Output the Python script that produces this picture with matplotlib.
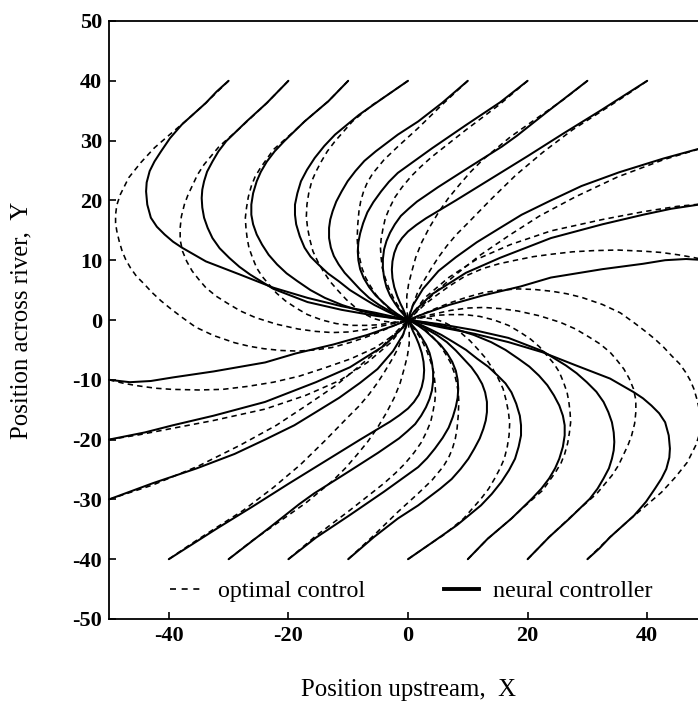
import matplotlib
matplotlib.use("Agg")
import matplotlib.pyplot as plt
from matplotlib.lines import Line2D

plt.rcParams['font.family'] = ['Liberation Serif', 'DejaVu Serif']
plt.rcParams['axes.unicode_minus'] = False

# ---- trajectories: (x, y) pairs, start -> origin ----
# neural controller (solid), starts on top edge y=40
nn_t_m30 = [(-30,40),(-32.0,38.2),(-33.8,36.3),(-37.8,32.7),(-39.8,30.4),(-41.3,28.2),(-42.4,26.5),(-43.2,24.9),(-43.7,23.0),(-43.8,21.5),(-43.6,19.3),(-43.0,17.1),(-42.0,15.6),(-40.7,14.3),(-39.3,13.1),(-37.8,12.1),(-33.8,9.8),(-28.1,7.6),(-22.5,5.4),(-16.8,3.7),(-11.1,2.3),(-5.4,1.2),(0,0)]
nn_t_m20 = [(-20,40),(-23.6,36.3),(-27.0,33.2),(-30.4,29.9),(-31.7,28.2),(-32.7,26.5),(-33.6,24.8),(-34.1,23.2),(-34.4,21.8),(-34.5,20.4),(-34.4,18.8),(-34.1,17.1),(-33.5,15.4),(-32.7,13.7),(-31.5,12.0),(-29.9,10.4),(-28.2,8.9),(-26.4,7.6),(-22.5,5.2),(-16.8,3.0),(-11.1,1.7),(-5.4,0.7),(0,0)]
nn_t_m10 = [(-10,40),(-13.3,36.6),(-17.3,33.2),(-20.7,29.9),(-22.3,28.2),(-23.6,26.5),(-24.6,24.8),(-25.3,23.2),(-25.9,21.2),(-26.2,19.3),(-26.2,17.6),(-25.9,16.0),(-25.3,14.3),(-24.4,12.6),(-23.3,10.9),(-21.9,9.3),(-20.3,7.8),(-18.5,6.5),(-16.3,5.0),(-13.9,3.7),(-11.0,2.5),(-8.2,1.6),(-3.5,0.5),(0,0)]
nn_t_0 = [(0,40),(-4.2,37.1),(-8.2,34.3),(-12.2,31.0),(-14.0,29.1),(-15.6,27.1),(-16.9,25.1),(-17.9,23.2),(-18.5,21.2),(-18.9,19.3),(-18.9,17.6),(-18.7,16.0),(-18.1,14.0),(-17.3,12.1),(-16.3,10.6),(-15.0,9.3),(-13.4,7.8),(-11.6,6.5),(-9.7,5.0),(-7.6,3.7),(-5.6,2.5),(-3.6,1.5),(-1.7,0.6),(0,0)]
nn_t_10 = [(10,40),(5.7,36.3),(1.7,33.2),(-1.7,31.0),(-5.4,28.2),(-7.3,26.6),(-8.8,24.9),(-10.1,23.2),(-11.1,21.5),(-12.0,19.8),(-12.6,18.2),(-13.0,16.8),(-13.2,15.4),(-13.2,13.7),(-12.9,12.1),(-12.4,10.7),(-11.6,9.3),(-10.6,7.9),(-9.3,6.5),(-8.0,5.1),(-6.5,3.7),(-4.8,2.5),(-3.1,1.5),(-1.5,0.6),(0,0)]
nn_t_20 = [(20,40),(15.4,36.4),(9.7,32.6),(4.0,28.7),(-1.7,24.6),(-3.2,23.1),(-4.5,21.5),(-5.8,19.7),(-6.8,18.0),(-7.5,16.2),(-8.0,14.5),(-8.3,13.0),(-8.4,11.5),(-8.3,10.0),(-8.0,8.5),(-7.4,7.0),(-6.5,5.5),(-5.4,4.1),(-4.0,2.8),(-2.9,1.8),(-1.8,1.0),(-0.8,0.4),(0,0)]
nn_t_30 = [(30,40),(23.0,34.6),(18.2,30.8),(15.7,29.0),(10.0,25.4),(5.0,22.2),(1.5,19.8),(0.1,18.6),(-1.2,17.4),(-2.2,16.0),(-3.0,14.6),(-3.6,13.2),(-4.0,11.8),(-4.2,10.2),(-4.2,8.7),(-4.0,7.1),(-3.6,5.5),(-3.0,4.1),(-2.2,2.8),(-1.5,1.8),(-0.8,1.0),(0,0)]
nn_t_40 = [(40,40),(32.0,34.9),(26.0,31.2),(20.0,27.4),(14.0,23.7),(8.0,20.0),(3.0,17.0),(1.4,15.9),(0.0,14.8),(-1.0,13.7),(-1.8,12.5),(-2.3,11.2),(-2.6,9.8),(-2.7,8.4),(-2.6,7.0),(-2.3,5.5),(-1.8,4.0),(-1.3,2.8),(-0.8,1.8),(-0.4,0.8),(0,0)]
# neural controller, starts on right edge x=50
nn_r_30 = [(50,29),(42.7,27.0),(35.3,24.7),(29.0,22.4),(23.9,20.0),(19.0,17.6),(15.4,15.4),(11.5,13.0),(8.0,10.5),(5.1,8.2),(2.5,5.2),(0.8,2.4),(0,0)]
nn_r_20 = [(50,19.5),(44,18.6),(39.3,17.6),(32.5,16.0),(23.9,13.7),(15.4,10.4),(9.7,7.9),(4.0,4.3),(1.1,1.5),(0,0)]
nn_r_10 = [(50,10),(46.5,10.2),(43,10.0),(39.3,9.4),(32.5,8.5),(23.9,7.1),(18.8,5.6),(12.5,4.1),(6.8,2.5),(2.8,1.1),(0,0)]
# neural controller, starts on bottom edge y=-40
nn_b_p30 = [(30,-40),(32.0,-38.2),(33.8,-36.3),(37.8,-32.7),(39.8,-30.4),(41.3,-28.2),(42.4,-26.5),(43.2,-24.9),(43.7,-23.0),(43.8,-21.5),(43.6,-19.3),(43.0,-17.1),(42.0,-15.6),(40.7,-14.3),(39.3,-13.1),(37.8,-12.1),(33.8,-9.8),(28.1,-7.6),(22.5,-5.4),(16.8,-3.7),(11.1,-2.3),(5.4,-1.2),(0,0)]
nn_b_p20 = [(20,-40),(23.6,-36.3),(27.0,-33.2),(30.4,-29.9),(31.7,-28.2),(32.7,-26.5),(33.6,-24.8),(34.1,-23.2),(34.4,-21.8),(34.5,-20.4),(34.4,-18.8),(34.1,-17.1),(33.5,-15.4),(32.7,-13.7),(31.5,-12.0),(29.9,-10.4),(28.2,-8.9),(26.4,-7.6),(22.5,-5.2),(16.8,-3.0),(11.1,-1.7),(5.4,-0.7),(0,0)]
nn_b_p10 = [(10,-40),(13.3,-36.6),(17.3,-33.2),(20.7,-29.9),(22.3,-28.2),(23.6,-26.5),(24.6,-24.8),(25.3,-23.2),(25.9,-21.2),(26.2,-19.3),(26.2,-17.6),(25.9,-16.0),(25.3,-14.3),(24.4,-12.6),(23.3,-10.9),(21.9,-9.3),(20.3,-7.8),(18.5,-6.5),(16.3,-5.0),(13.9,-3.7),(11.0,-2.5),(8.2,-1.6),(3.5,-0.5),(0,0)]
nn_b_0 = [(0,-40),(4.2,-37.1),(8.2,-34.3),(12.2,-31.0),(14.0,-29.1),(15.6,-27.1),(16.9,-25.1),(17.9,-23.2),(18.5,-21.2),(18.9,-19.3),(18.9,-17.6),(18.7,-16.0),(18.1,-14.0),(17.3,-12.1),(16.3,-10.6),(15.0,-9.3),(13.4,-7.8),(11.6,-6.5),(9.7,-5.0),(7.6,-3.7),(5.6,-2.5),(3.6,-1.5),(1.7,-0.6),(0,0)]
nn_b_m10 = [(-10,-40),(-5.7,-36.3),(-1.7,-33.2),(1.7,-31.0),(5.4,-28.2),(7.3,-26.6),(8.8,-24.9),(10.1,-23.2),(11.1,-21.5),(12.0,-19.8),(12.6,-18.2),(13.0,-16.8),(13.2,-15.4),(13.2,-13.7),(12.9,-12.1),(12.4,-10.7),(11.6,-9.3),(10.6,-7.9),(9.3,-6.5),(8.0,-5.1),(6.5,-3.7),(4.8,-2.5),(3.1,-1.5),(1.5,-0.6),(0,0)]
nn_b_m20 = [(-20,-40),(-15.4,-36.4),(-9.7,-32.6),(-4.0,-28.7),(1.7,-24.6),(3.2,-23.1),(4.5,-21.5),(5.8,-19.7),(6.8,-18.0),(7.5,-16.2),(8.0,-14.5),(8.3,-13.0),(8.4,-11.5),(8.3,-10.0),(8.0,-8.5),(7.4,-7.0),(6.5,-5.5),(5.4,-4.1),(4.0,-2.8),(2.9,-1.8),(1.8,-1.0),(0.8,-0.4),(0,0)]
nn_b_m30 = [(-30,-40),(-23.0,-34.6),(-18.2,-30.8),(-15.7,-29.0),(-10.0,-25.4),(-5.0,-22.2),(-1.5,-19.8),(-0.1,-18.6),(1.2,-17.4),(2.2,-16.0),(3.0,-14.6),(3.6,-13.2),(4.0,-11.8),(4.2,-10.2),(4.2,-8.7),(4.0,-7.1),(3.6,-5.5),(3.0,-4.1),(2.2,-2.8),(1.5,-1.8),(0.8,-1.0),(0,0)]
nn_b_m40 = [(-40,-40),(-32.0,-34.9),(-26.0,-31.2),(-20.0,-27.4),(-14.0,-23.7),(-8.0,-20.0),(-3.0,-17.0),(-1.4,-15.9),(0.0,-14.8),(1.0,-13.7),(1.8,-12.5),(2.3,-11.2),(2.6,-9.8),(2.7,-8.4),(2.6,-7.0),(2.3,-5.5),(1.8,-4.0),(1.3,-2.8),(0.8,-1.8),(0.4,-0.8),(0,0)]
# neural controller, starts on left edge x=-50
nn_l_m30 = [(-50,-30),(-42.7,-27.3),(-35.3,-24.8),(-29.0,-22.4),(-23.9,-20.0),(-19.0,-17.6),(-15.4,-15.4),(-11.5,-13.0),(-8.0,-10.5),(-5.1,-8.2),(-2.5,-5.2),(-0.8,-2.4),(0,0)]
nn_l_m20 = [(-50,-20),(-44,-18.8),(-39.3,-17.6),(-32.5,-16.0),(-23.9,-13.7),(-15.4,-10.4),(-9.7,-7.9),(-4.0,-4.3),(-1.1,-1.5),(0,0)]
nn_l_m10 = [(-50,-10),(-46.5,-10.4),(-43,-10.2),(-39.3,-9.6),(-32.5,-8.6),(-23.9,-7.1),(-18.8,-5.6),(-12.5,-4.1),(-6.8,-2.5),(-2.8,-1.1),(0,0)]

# optimal control (dashed)
oc_t_m30 = [(-30,40),(-33.8,36.3),(-36.8,33.6),(-39.5,31.3),(-42.4,28.8),(-44.7,26.3),(-46.7,23.8),(-48.1,21.0),(-48.7,19.2),(-48.9,17.6),(-48.9,16.2),(-48.7,14.9),(-48.3,13.2),(-47.8,11.5),(-47.2,10.1),(-46.4,8.7),(-45.4,7.3),(-44.1,6.0),(-42.8,4.6),(-41.3,3.2),(-39.7,1.9),(-38.0,0.6),(-35.5,-1.2),(-32.5,-2.6),(-29.0,-3.8),(-26.5,-4.4),(-24.1,-4.8),(-21.2,-5.1),(-18.4,-5.2),(-15.5,-5.0),(-12.7,-4.6),(-9.8,-3.8),(-7.1,-2.9),(-4.8,-2.0),(-2.5,-1.0),(0,0)]
oc_t_m20 = [(-20,40),(-23.6,36.3),(-28.1,32.1),(-31.6,29.0),(-34.1,26.0),(-35.2,24.3),(-36.0,22.6),(-36.8,20.9),(-37.4,19.3),(-37.9,17.3),(-38.1,15.4),(-38.1,13.4),(-37.7,11.5),(-37.0,9.8),(-36.1,8.2),(-35.0,6.8),(-33.8,5.4),(-32.1,4.0),(-30.2,2.8),(-28.0,1.5),(-25.5,0.4),(-22.0,-0.7),(-18.4,-1.5),(-15.5,-1.9),(-12.7,-2.1),(-9.9,-2.0),(-7.1,-1.6),(-4.8,-1.1),(-2.5,-0.6),(0,0)]
oc_t_m10 = [(-10,40),(-13.3,36.6),(-17.3,33.2),(-19.0,31.6),(-22.5,28.5),(-24.7,25.4),(-25.6,23.9),(-26.2,22.4),(-26.7,20.6),(-27.0,18.8),(-27.2,17.1),(-27.1,15.4),(-26.9,13.7),(-26.6,12.1),(-26.0,10.4),(-25.3,8.7),(-24.4,7.3),(-23.3,6.0),(-22.0,4.5),(-20.5,3.2),(-18.7,2.0),(-16.8,0.9),(-14.4,0.0),(-12.0,-0.6),(-9.5,-0.9),(-7.0,-0.9),(-5.0,-0.8),(-3.0,-0.5),(0,0)]
oc_t_0 = [(0,40),(-4.2,37.1),(-5.9,36.0),(-9.3,33.2),(-12.2,29.9),(-13.5,28.2),(-14.5,26.5),(-15.4,24.8),(-16.1,23.2),(-16.6,21.2),(-16.9,19.3),(-17.0,17.3),(-16.8,15.4),(-16.4,13.4),(-15.9,11.5),(-15.1,9.8),(-14.2,8.2),(-13.0,6.4),(-11.6,4.8),(-10.3,3.4),(-8.8,2.1),(-7.4,1.1),(-5.9,0.3),(-4.2,-0.2),(-2.5,-0.4),(-1.0,-0.3),(0,0)]
oc_t_10 = [(10,40),(5.7,36.0),(1.7,32.1),(-1.7,29.0),(-4.0,26.8),(-5.9,24.5),(-6.8,23.0),(-7.4,21.6),(-7.9,19.9),(-8.2,18.2),(-8.4,16.0),(-8.5,13.7),(-8.4,12.0),(-8.1,10.4),(-7.7,8.7),(-7.1,7.1),(-6.3,5.7),(-5.4,4.3),(-4.3,3.0),(-3.1,1.8),(-1.6,0.8),(0,0)]
oc_t_20 = [(20,40),(15.4,36.1),(9.7,31.8),(4.0,27.3),(2.1,25.6),(0.5,24.0),(-1.0,22.2),(-2.2,20.5),(-3.1,18.7),(-3.8,17.0),(-4.2,15.2),(-4.5,13.5),(-4.6,12.0),(-4.5,10.5),(-4.3,8.7),(-3.8,7.0),(-3.2,5.3),(-2.5,3.8),(-1.8,2.6),(-1.0,1.5),(-0.4,0.6),(0,0)]
oc_t_30 = [(30,40),(26.2,37.0),(22.2,34.2),(17.1,30.6),(12.5,26.8),(10.4,24.7),(8.5,22.5),(6.7,20.3),(5.1,18.0),(3.6,15.5),(2.3,13.0),(1.3,10.5),(0.6,8.0),(0.1,6.0),(-0.2,4.0),(-0.2,2.0),(0,0)]
oc_t_40 = [(40,40),(36.5,37.6),(32.5,35.0),(27.5,31.8),(22.5,28.0),(18.0,24.2),(13.9,20.2),(10.0,16.2),(8.1,14.3),(6.5,12.4),(5.1,10.5),(4.0,8.8),(2.5,6.3),(1.6,4.6),(1.0,3.0),(0.4,1.4),(0,0)]
oc_r_30 = [(50,29),(42.7,26.8),(35.0,23.9),(28.0,20.6),(22.0,17.4),(17.0,14.2),(12.0,10.8),(8.0,7.6),(4.5,4.6),(2.0,2.0),(0,0)]
oc_r_20 = [(50,19.5),(45,19.0),(39.3,18.1),(32.5,16.8),(23.9,14.9),(17.1,12.6),(11.4,10.1),(6.8,7.1),(2.8,3.7),(0,0)]
oc_r_10 = [(50,10),(47.5,10.5),(45.2,10.9),(42.3,11.3),(39.5,11.5),(35,11.7),(31,11.6),(27.5,11.4),(24,11.0),(21,10.6),(18,10.0),(15.2,9.4),(12.5,8.6),(9.5,7.3),(6.8,5.6),(4.6,4.0),(2.8,2.6),(1.2,1.1),(0,0)]
oc_b_p30 = [(30,-40),(33.8,-36.3),(36.8,-33.6),(39.5,-31.3),(42.4,-28.8),(44.7,-26.3),(46.7,-23.8),(48.1,-21.0),(48.7,-19.2),(48.9,-17.6),(48.9,-16.2),(48.7,-14.9),(48.3,-13.2),(47.8,-11.5),(47.2,-10.1),(46.4,-8.7),(45.4,-7.3),(44.1,-6.0),(42.8,-4.6),(41.3,-3.2),(39.7,-1.9),(38.0,-0.6),(35.5,1.2),(32.5,2.6),(29.0,3.8),(26.5,4.4),(24.1,4.8),(21.2,5.1),(18.4,5.2),(15.5,5.0),(12.7,4.6),(9.8,3.8),(7.1,2.9),(4.8,2.0),(2.5,1.0),(0,0)]
oc_b_p20 = [(20,-40),(23.6,-36.3),(28.1,-32.1),(31.6,-29.0),(34.1,-26.0),(35.2,-24.3),(36.0,-22.6),(36.8,-20.9),(37.4,-19.3),(37.9,-17.3),(38.1,-15.4),(38.1,-13.4),(37.7,-11.5),(37.0,-9.8),(36.1,-8.2),(35.0,-6.8),(33.8,-5.4),(32.1,-4.0),(30.2,-2.8),(28.0,-1.5),(25.5,-0.4),(22.0,0.7),(18.4,1.5),(15.5,1.9),(12.7,2.1),(9.9,2.0),(7.1,1.6),(4.8,1.1),(2.5,0.6),(0,0)]
oc_b_p10 = [(10,-40),(13.3,-36.6),(17.3,-33.2),(19.0,-31.6),(22.5,-28.5),(24.7,-25.4),(25.6,-23.9),(26.2,-22.4),(26.7,-20.6),(27.0,-18.8),(27.2,-17.1),(27.1,-15.4),(26.9,-13.7),(26.6,-12.1),(26.0,-10.4),(25.3,-8.7),(24.4,-7.3),(23.3,-6.0),(22.0,-4.5),(20.5,-3.2),(18.7,-2.0),(16.8,-0.9),(14.4,0.0),(12.0,0.6),(9.5,0.9),(7.0,0.9),(5.0,0.8),(3.0,0.5),(0,0)]
oc_b_0 = [(0,-40),(4.2,-37.1),(5.9,-36.0),(9.3,-33.2),(12.2,-29.9),(13.5,-28.2),(14.5,-26.5),(15.4,-24.8),(16.1,-23.2),(16.6,-21.2),(16.9,-19.3),(17.0,-17.3),(16.8,-15.4),(16.4,-13.4),(15.9,-11.5),(15.1,-9.8),(14.2,-8.2),(13.0,-6.4),(11.6,-4.8),(10.3,-3.4),(8.8,-2.1),(7.4,-1.1),(5.9,-0.3),(4.2,0.2),(2.5,0.4),(1.0,0.3),(0,0)]
oc_b_m10 = [(-10,-40),(-5.7,-36.0),(-1.7,-32.1),(1.7,-29.0),(4.0,-26.8),(5.9,-24.5),(6.8,-23.0),(7.4,-21.6),(7.9,-19.9),(8.2,-18.2),(8.4,-16.0),(8.5,-13.7),(8.4,-12.0),(8.1,-10.4),(7.7,-8.7),(7.1,-7.1),(6.3,-5.7),(5.4,-4.3),(4.3,-3.0),(3.1,-1.8),(1.6,-0.8),(0,0)]
oc_b_m20 = [(-20,-40),(-15.4,-36.1),(-9.7,-31.8),(-4.0,-27.3),(-2.1,-25.6),(-0.5,-24.0),(1.0,-22.2),(2.2,-20.5),(3.1,-18.7),(3.8,-17.0),(4.2,-15.2),(4.5,-13.5),(4.6,-12.0),(4.5,-10.5),(4.3,-8.7),(3.8,-7.0),(3.2,-5.3),(2.5,-3.8),(1.8,-2.6),(1.0,-1.5),(0.4,-0.6),(0,0)]
oc_b_m30 = [(-30,-40),(-26.2,-37.0),(-22.2,-34.2),(-17.1,-30.6),(-12.5,-26.8),(-10.4,-24.7),(-8.5,-22.5),(-6.7,-20.3),(-5.1,-18.0),(-3.6,-15.5),(-2.3,-13.0),(-1.3,-10.5),(-0.6,-8.0),(-0.1,-6.0),(0.2,-4.0),(0.2,-2.0),(0,0)]
oc_b_m40 = [(-40,-40),(-36.5,-37.6),(-32.5,-35.0),(-27.5,-31.8),(-22.5,-28.0),(-18.0,-24.2),(-13.9,-20.2),(-10.0,-16.2),(-8.1,-14.3),(-6.5,-12.4),(-5.1,-10.5),(-4.0,-8.8),(-2.5,-6.3),(-1.6,-4.6),(-1.0,-3.0),(-0.4,-1.4),(0,0)]
oc_l_m30 = [(-50,-30),(-42.7,-27.6),(-35.0,-24.4),(-28.0,-20.9),(-22.0,-17.6),(-17.0,-14.3),(-12.0,-10.9),(-8.0,-7.6),(-4.5,-4.6),(-2.0,-2.0),(0,0)]
oc_l_m20 = [(-50,-20),(-45,-19.2),(-39.3,-18.1),(-32.5,-16.8),(-23.9,-14.9),(-17.1,-12.6),(-11.4,-10.1),(-6.8,-7.1),(-2.8,-3.7),(0,0)]
oc_l_m10 = [(-50,-10),(-47.5,-10.6),(-45.2,-11.0),(-42.3,-11.4),(-39.5,-11.6),(-35,-11.7),(-31,-11.6),(-26.8,-11.1),(-22.5,-10.4),(-18.2,-9.4),(-13.9,-8.0),(-9.6,-6.5),(-5.4,-4.6),(-2.8,-2.8),(-0.8,-1.3),(0,0)]

neural_curves = [nn_t_m30, nn_t_m20, nn_t_m10, nn_t_0, nn_t_10, nn_t_20, nn_t_30, nn_t_40,
                 nn_r_30, nn_r_20, nn_r_10,
                 nn_b_p30, nn_b_p20, nn_b_p10, nn_b_0, nn_b_m10, nn_b_m20, nn_b_m30, nn_b_m40,
                 nn_l_m30, nn_l_m20, nn_l_m10]
optimal_curves = [oc_t_m30, oc_t_m20, oc_t_m10, oc_t_0, oc_t_10, oc_t_20, oc_t_30, oc_t_40,
                  oc_r_30, oc_r_20, oc_r_10,
                  oc_b_p30, oc_b_p20, oc_b_p10, oc_b_0, oc_b_m10, oc_b_m20, oc_b_m30, oc_b_m40,
                  oc_l_m30, oc_l_m20, oc_l_m10]

x_ticks = [-40, -20, 0, 20, 40]
y_ticks = [-50, -40, -30, -20, -10, 0, 10, 20, 30, 40, 50]
legend_labels = ['optimal control', 'neural controller']
x_label = 'Position upstream,  X'
y_label = 'Position across river,  Y'

W, H = 698, 707
fig = plt.figure(figsize=(W/100, H/100), dpi=100)
ax = fig.add_axes([109/W, (H-619)/H, 598/W, 598/H])

for c in optimal_curves:
    xs, ys = zip(*c)
    ax.plot(xs, ys, color='black', lw=1.15, ls=(0, (3.4, 2.6)), clip_on=False)
for c in neural_curves:
    xs, ys = zip(*c)
    ax.plot(xs, ys, color='black', lw=1.45, solid_capstyle='round', solid_joinstyle='round', clip_on=False)

ax.set_xlim(-50, 50)
ax.set_ylim(-50, 50)
ax.set_xticks(x_ticks)
ax.set_yticks(y_ticks)
ax.tick_params(direction='in', length=5, width=1.2, top=False, right=False, labelsize=16, pad=5)
for lbl in ax.get_xticklabels() + ax.get_yticklabels():
    lbl.set_fontweight('bold')
for s in ax.spines.values():
    s.set_linewidth(1.3)

fig.text(408/W, 1-690/H, x_label, ha='center', va='center', fontsize=17.8)
fig.text(21/W, 1-320/H, y_label, ha='center', va='center', rotation=90, fontsize=17.8)

handles = [Line2D([], [], color='black', lw=1.2, ls=(0, (3.6, 3.4))),
           Line2D([], [], color='black', lw=2.8)]
ax.legend(handles, legend_labels, ncol=2, loc='center left', bbox_to_anchor=(0.102, 0.046),
          frameon=False, fontsize=17.3, handlelength=1.45, handletextpad=0.55,
          columnspacing=3.3, borderpad=0, borderaxespad=0)

fig.savefig('out.png', dpi=100)
